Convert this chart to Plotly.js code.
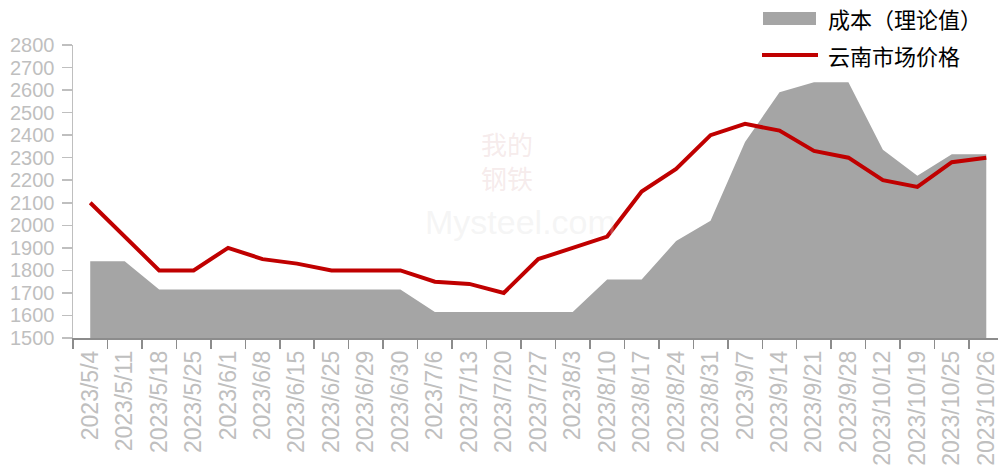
<!DOCTYPE html>
<html>
<head>
<meta charset="utf-8">
<script src="https://cdn.plot.ly/plotly-3.0.1.min.js"></script>
<style>html,body{margin:0;padding:0;background:#fff;}#chart{width:998px;height:475px;}</style>
</head>
<body>
<div id="chart"></div>
<script>
var categories = ["2023/5/4","2023/5/11","2023/5/18","2023/5/25","2023/6/1","2023/6/8","2023/6/15","2023/6/25","2023/6/29","2023/6/30","2023/7/6","2023/7/13","2023/7/20","2023/7/27","2023/8/3","2023/8/10","2023/8/17","2023/8/24","2023/8/31","2023/9/7","2023/9/14","2023/9/21","2023/9/28","2023/10/12","2023/10/19","2023/10/25","2023/10/26"];
var costValues = [1840,1840,1715,1715,1715,1715,1715,1715,1715,1715,1615,1615,1615,1615,1615,1760,1760,1930,2020,2370,2590,2635,2635,2335,2220,2315,2315];
var priceValues = [2100,1950,1800,1800,1900,1850,1830,1800,1800,1800,1750,1740,1700,1850,1900,1950,2150,2250,2400,2450,2420,2330,2300,2200,2170,2280,2300];
var yTicks = [1500,1600,1700,1800,1900,2000,2100,2200,2300,2400,2500,2600,2700,2800];
var seriesNames = ["成本（理论值）","云南市场价格"];

var traces = [
  {type:"scatter", mode:"lines", x:categories, y:costValues, name:seriesNames[0],
   fill:"tozeroy", fillcolor:"#a5a5a5", line:{color:"#a5a5a5", width:0}, showlegend:false},
  {type:"scatter", mode:"lines", x:categories, y:priceValues, name:seriesNames[1],
   line:{color:"#c00000", width:4}, showlegend:false}
];

var layout = {
  width:998, height:475,
  margin:{l:73, r:0, t:45, b:137},
  paper_bgcolor:"#ffffff", plot_bgcolor:"#ffffff",
  xaxis:{
    type:"category", range:[-0.5, 26.34], tickangle:-90,
    tickfont:{family:"Liberation Sans, Arial, sans-serif", size:23, color:"#bfbfbf"},
    showline:true, linecolor:"#8c8c8c", linewidth:1.5,
    ticks:"outside", tickson:"boundaries", ticklen:9, tickcolor:"#8c8c8c", tickwidth:1.5,
    ticklabelstandoff:2,
    showgrid:false, zeroline:false, automargin:false
  },
  yaxis:{
    range:[1500,2800], tickvals:yTicks, ticktext:yTicks.map(String),
    tickfont:{family:"Liberation Sans, Arial, sans-serif", size:20, color:"#bfbfbf"},
    showline:true, linecolor:"#bfbfbf", linewidth:1.5,
    ticks:"outside", ticklen:10, tickcolor:"#bfbfbf", tickwidth:1.5,
    ticklabelstandoff:3,
    showgrid:false, zeroline:false, automargin:false
  },
  shapes:[
    {type:"rect", xref:"paper", yref:"paper", x0:(763-73)/925, x1:(816-73)/925,
     y0:(475-137-25)/293, y1:(475-137-12)/293, fillcolor:"#a5a5a5", line:{width:0}},
    {type:"line", xref:"paper", yref:"paper", x0:(762-73)/925, x1:(818-73)/925,
     y0:(475-137-55)/293, y1:(475-137-55)/293, line:{color:"#c00000", width:4}}
  ],
  annotations:[
    {xref:"paper", yref:"paper", x:(826-73)/925, y:(475-137-18)/293, xanchor:"left", yanchor:"middle",
     text:seriesNames[0], showarrow:false, font:{family:"Noto Sans CJK SC", size:22, color:"#000000"}},
    {xref:"paper", yref:"paper", x:(826-73)/925, y:(475-137-55)/293, xanchor:"left", yanchor:"middle",
     text:seriesNames[1], showarrow:false, font:{family:"Noto Sans CJK SC", size:22, color:"#000000"}},
    {xref:"paper", yref:"paper", x:(507-73)/925, y:(475-137-160)/293, xanchor:"center", yanchor:"middle",
     text:"我的<br>钢铁", showarrow:false, font:{family:"Noto Sans CJK SC", size:26, color:"rgba(225,190,190,0.3)"}},
    {xref:"paper", yref:"paper", x:(520-73)/925, y:(475-137-222)/293, xanchor:"center", yanchor:"middle",
     text:"Mysteel.com", showarrow:false, font:{family:"Liberation Sans, Arial", size:34, color:"rgba(220,220,220,0.3)"}}
  ]
};

Plotly.newPlot("chart", traces, layout, {displayModeBar:false, staticPlot:true});
</script>
</body>
</html>
